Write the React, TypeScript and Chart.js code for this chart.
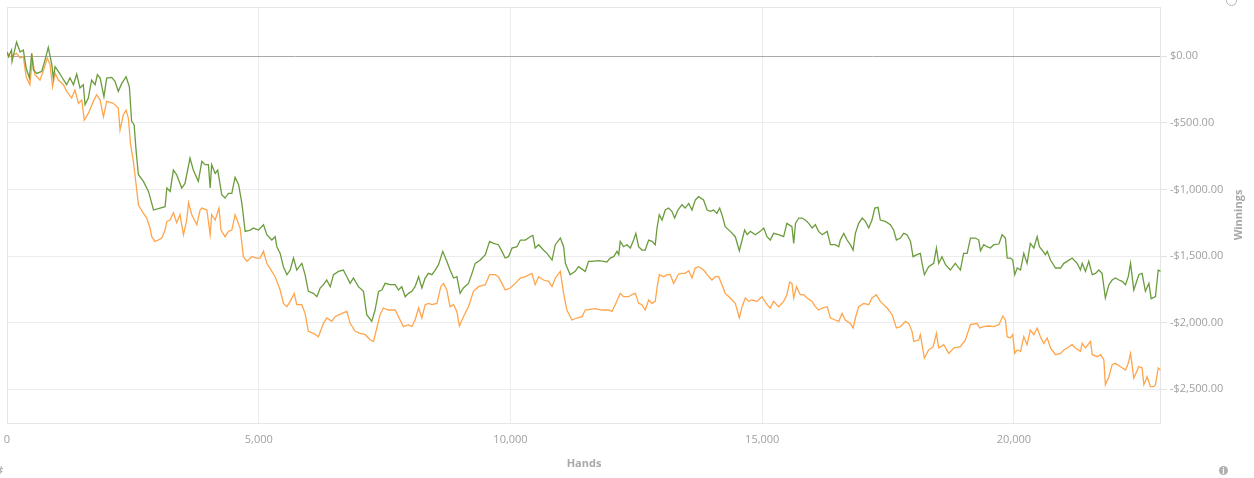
import { useEffect, useRef } from "react";
import { Chart, registerables } from "chart.js";

Chart.register(...registerables);

// all-in winnings
const greenHands = [
  0, 30, 90, 100, 190, 260, 325, 380, 445, 490, 525, 590, 690, 755, 820, 890, 920, 955, 1020, 1085,
  1185, 1250, 1320, 1385, 1450, 1515, 1550, 1615, 1680, 1750, 1795, 1850, 1925, 1980, 2080, 2145, 2210, 2280, 2365, 2430,
  2475, 2525, 2565, 2610, 2710, 2810, 2910, 3040, 3140, 3175, 3240, 3305, 3370, 3470, 3535, 3635, 3700, 3800, 3870, 3935,
  4000, 4035, 4065, 4135, 4185, 4265, 4330, 4400, 4465, 4530, 4600, 4665, 4730, 4830, 4895, 4995, 5095, 5160, 5260, 5325,
  5360, 5425, 5490, 5560, 5625, 5690, 5755, 5855, 5920, 5985, 6085, 6155, 6220, 6285, 6350, 6420, 6485, 6585, 6680, 6750,
  6815, 6880, 6980, 7080, 7145, 7245, 7310, 7380, 7445, 7510, 7610, 7710, 7775, 7840, 7910, 7975, 8040, 8105, 8175, 8240,
  8305, 8370, 8440, 8505, 8570, 8655, 8735, 8800, 8870, 8935, 9000, 9065, 9165, 9235, 9300, 9400, 9500, 9585, 9665, 9760,
  9830, 9895, 9960, 10030, 10130, 10195, 10295, 10390, 10445, 10490, 10560, 10655, 10725, 10825, 10890, 10990, 11055, 11090, 11185, 11285,
  11350, 11485, 11550, 11620, 11750, 11850, 11915, 11980, 12050, 12115, 12150, 12180, 12245, 12315, 12380, 12445, 12490, 12545, 12610, 12675,
  12745, 12810, 12875, 12910, 12955, 13010, 13075, 13140, 13205, 13260, 13325, 13405, 13470, 13540, 13605, 13670, 13735, 13835, 13905, 13970,
  14035, 14100, 14155, 14200, 14265, 14365, 14465, 14545, 14600, 14650, 14700, 14765, 14865, 14960, 15030, 15095, 15160, 15225, 15325, 15425,
  15490, 15590, 15625, 15660, 15725, 15790, 15855, 15925, 15990, 16055, 16120, 16190, 16290, 16355, 16450, 16520, 16550, 16620, 16685, 16750,
  16805, 16850, 16915, 16985, 17050, 17115, 17180, 17235, 17300, 17345, 17445, 17545, 17610, 17665, 17745, 17810, 17875, 17945, 17995, 18075,
  18140, 18175, 18220, 18305, 18405, 18460, 18505, 18570, 18640, 18735, 18835, 18935, 19000, 19070, 19135, 19235, 19300, 19335, 19400, 19465,
  19530, 19600, 19700, 19765, 19830, 19865, 19930, 19975, 20015, 20065, 20130, 20195, 20260, 20325, 20395, 20460, 20505, 20560, 20625, 20660,
  20725, 20825, 20925, 20990, 21055, 21155, 21255, 21320, 21355, 21420, 21485, 21555, 21620, 21685, 21750, 21815, 21885, 21950, 22015, 22085,
  22150, 22215, 22270, 22315, 22380, 22480, 22545, 22610, 22680, 22725, 22810, 22865, 22910,
];
const greenWinnings = [
  30, -5, 45, -40, 105, 30, 45, -90, -165, 20, -105, -130, -115, -30, 65, -65, -165, -80, -115, -155,
  -215, -165, -215, -135, -240, -215, -365, -315, -180, -215, -140, -165, -305, -165, -160, -190, -265, -205, -155, -230,
  -490, -515, -715, -890, -940, -1015, -1155, -1140, -1130, -990, -1015, -855, -890, -990, -955, -765, -855, -940, -790, -815,
  -815, -990, -815, -880, -855, -1040, -1065, -1030, -1030, -910, -965, -1105, -1315, -1305, -1290, -1305, -1265, -1340, -1380, -1355,
  -1430, -1480, -1580, -1640, -1605, -1515, -1605, -1555, -1640, -1765, -1780, -1805, -1740, -1715, -1680, -1730, -1640, -1615, -1605, -1655,
  -1705, -1665, -1730, -1765, -1940, -1990, -1905, -1765, -1755, -1705, -1715, -1715, -1755, -1730, -1805, -1780, -1765, -1730, -1655, -1740,
  -1665, -1630, -1640, -1605, -1565, -1465, -1540, -1605, -1665, -1655, -1780, -1740, -1705, -1630, -1555, -1530, -1490, -1390, -1405, -1415,
  -1465, -1515, -1505, -1440, -1430, -1380, -1380, -1355, -1345, -1440, -1415, -1455, -1480, -1530, -1415, -1365, -1430, -1555, -1640, -1615,
  -1580, -1615, -1540, -1540, -1535, -1540, -1545, -1515, -1505, -1465, -1490, -1390, -1430, -1415, -1440, -1380, -1330, -1430, -1455, -1455,
  -1380, -1390, -1415, -1290, -1190, -1230, -1155, -1140, -1165, -1215, -1155, -1115, -1140, -1105, -1155, -1080, -1055, -1080, -1155, -1165,
  -1155, -1180, -1140, -1190, -1280, -1315, -1355, -1460, -1380, -1305, -1340, -1315, -1340, -1315, -1290, -1355, -1380, -1330, -1340, -1355,
  -1255, -1280, -1405, -1255, -1215, -1215, -1230, -1255, -1290, -1265, -1315, -1340, -1315, -1415, -1415, -1430, -1380, -1330, -1380, -1415,
  -1455, -1330, -1255, -1215, -1240, -1290, -1230, -1140, -1135, -1230, -1240, -1265, -1305, -1380, -1365, -1330, -1340, -1390, -1505, -1490,
  -1480, -1555, -1640, -1580, -1555, -1440, -1555, -1505, -1565, -1605, -1555, -1605, -1480, -1480, -1365, -1365, -1380, -1460, -1415, -1430,
  -1440, -1415, -1410, -1340, -1365, -1515, -1515, -1530, -1640, -1590, -1605, -1480, -1555, -1405, -1440, -1355, -1430, -1455, -1490, -1465,
  -1530, -1590, -1590, -1555, -1540, -1515, -1555, -1605, -1555, -1615, -1540, -1640, -1630, -1605, -1630, -1815, -1715, -1680, -1665, -1680,
  -1690, -1715, -1655, -1555, -1755, -1640, -1630, -1765, -1705, -1820, -1805, -1605, -1615,
];

const orangeHands = [
  0, 60, 190, 260, 325, 380, 455, 505, 555, 655, 720, 800, 855, 905, 955, 1020, 1120, 1185, 1285, 1350,
  1420, 1485, 1535, 1615, 1715, 1780, 1850, 1915, 1980, 2110, 2210, 2245, 2310, 2365, 2410, 2455, 2510, 2565, 2610, 2700,
  2775, 2840, 2875, 2940, 3005, 3075, 3140, 3175, 3240, 3305, 3370, 3435, 3505, 3570, 3605, 3670, 3770, 3835, 3870, 3970,
  4035, 4065, 4135, 4210, 4250, 4330, 4400, 4465, 4530, 4630, 4695, 4765, 4860, 4960, 5025, 5095, 5160, 5260, 5325, 5360,
  5425, 5490, 5560, 5625, 5705, 5755, 5855, 5920, 5985, 6085, 6185, 6285, 6350, 6450, 6515, 6650, 6750, 6815, 6915, 7015,
  7115, 7215, 7280, 7345, 7410, 7475, 7575, 7710, 7775, 7875, 7975, 8040, 8105, 8175, 8240, 8305, 8370, 8440, 8540, 8615,
  8670, 8735, 8800, 8870, 8935, 8985, 9065, 9165, 9265, 9365, 9500, 9585, 9695, 9760, 9830, 9895, 9995, 10095, 10195, 10295,
  10425, 10490, 10560, 10655, 10755, 10825, 10890, 10990, 11055, 11120, 11220, 11320, 11420, 11485, 11585, 11685, 11815, 11950, 12015, 12080,
  12150, 12180, 12245, 12345, 12410, 12480, 12545, 12610, 12675, 12745, 12810, 12875, 12910, 12955, 13040, 13110, 13175, 13240, 13340, 13405,
  13470, 13540, 13605, 13670, 13735, 13835, 13905, 14000, 14070, 14135, 14200, 14265, 14365, 14465, 14545, 14600, 14665, 14730, 14795, 14895,
  14995, 15095, 15160, 15225, 15325, 15425, 15490, 15545, 15590, 15625, 15680, 15755, 15825, 15890, 15990, 16055, 16120, 16190, 16290, 16355,
  16450, 16520, 16585, 16650, 16750, 16805, 16850, 16915, 17015, 17115, 17180, 17265, 17345, 17480, 17580, 17665, 17745, 17845, 17910, 17975,
  18010, 18110, 18140, 18220, 18305, 18395, 18460, 18505, 18605, 18705, 18805, 18935, 19035, 19135, 19265, 19320, 19400, 19500, 19600, 19700,
  19780, 19830, 19865, 19930, 19975, 20015, 20065, 20130, 20195, 20260, 20325, 20395, 20460, 20525, 20590, 20660, 20725, 20825, 20925, 20990,
  21055, 21155, 21220, 21320, 21355, 21420, 21520, 21555, 21655, 21720, 21785, 21815, 21885, 21950, 22015, 22115, 22215, 22270, 22315, 22380,
  22480, 22545, 22580, 22645, 22710, 22775, 22810, 22865, 22910,
];
const orangeWinnings = [
  30, -5, 20, -15, -5, -155, -215, -15, -140, -180, -115, -15, -65, -230, -130, -180, -215, -265, -315, -255,
  -355, -330, -480, -430, -340, -290, -330, -455, -340, -355, -390, -555, -440, -405, -465, -665, -790, -965, -1115, -1175,
  -1215, -1290, -1355, -1390, -1380, -1365, -1305, -1240, -1230, -1175, -1250, -1190, -1340, -1230, -1100, -1190, -1265, -1155, -1140, -1155,
  -1340, -1190, -1230, -1140, -1305, -1355, -1315, -1305, -1190, -1290, -1505, -1540, -1505, -1515, -1515, -1465, -1555, -1615, -1655, -1690,
  -1755, -1855, -1880, -1840, -1780, -1865, -1865, -1930, -2065, -2080, -2105, -2005, -1965, -1990, -1955, -1930, -1915, -2005, -2065, -2080,
  -2090, -2130, -2140, -2040, -1940, -1890, -1905, -1905, -1955, -2030, -2015, -2030, -1980, -1890, -1965, -1865, -1855, -1865, -1855, -1730,
  -1705, -1755, -1880, -1865, -1915, -2025, -1955, -1880, -1765, -1730, -1715, -1640, -1640, -1655, -1705, -1755, -1740, -1705, -1665, -1655,
  -1630, -1715, -1655, -1680, -1690, -1730, -1665, -1615, -1780, -1905, -1980, -1965, -1955, -1905, -1900, -1895, -1905, -1905, -1915, -1865,
  -1805, -1780, -1805, -1805, -1790, -1780, -1855, -1865, -1905, -1830, -1855, -1840, -1740, -1640, -1655, -1640, -1640, -1705, -1635, -1630,
  -1630, -1610, -1665, -1590, -1580, -1605, -1640, -1680, -1655, -1655, -1715, -1780, -1815, -1855, -1965, -1880, -1815, -1840, -1830, -1840,
  -1805, -1865, -1890, -1840, -1880, -1840, -1790, -1695, -1705, -1815, -1730, -1790, -1790, -1815, -1840, -1880, -1905, -1890, -1880, -1965,
  -1980, -1990, -1930, -1980, -2005, -2040, -1965, -1880, -1855, -1865, -1815, -1790, -1840, -1890, -1940, -2040, -2030, -1990, -2005, -2065,
  -2140, -2130, -2090, -2265, -2205, -2180, -2080, -2190, -2165, -2230, -2190, -2180, -2130, -2015, -2005, -2040, -2030, -2025, -2030, -2015,
  -1950, -1980, -2105, -2115, -2090, -2230, -2205, -2215, -2105, -2165, -2055, -2090, -2040, -2105, -2155, -2115, -2190, -2240, -2230, -2205,
  -2190, -2165, -2190, -2215, -2155, -2190, -2140, -2240, -2255, -2240, -2280, -2465, -2405, -2315, -2305, -2330, -2355, -2305, -2230, -2415,
  -2330, -2340, -2465, -2405, -2480, -2480, -2465, -2340, -2355,
];

const handTicks = [0, 5000, 10000, 15000, 20000];
const winningTicks = [0, -500, -1000, -1500, -2000, -2500];

const FONT = '"Open Sans", "Noto Sans", sans-serif';

function money(v: number) {
  const s = Math.abs(v).toLocaleString("en-US", { minimumFractionDigits: 2, maximumFractionDigits: 2 });
  return (v < 0 ? "-" : "") + "$" + s;
}

// light frame around the plot area
const plotFrame = {
  id: "plotFrame",
  beforeDatasetsDraw(chart: any) {
    const { ctx, chartArea: a } = chart;
    ctx.save();
    ctx.strokeStyle = "#e6e6e6";
    ctx.lineWidth = 1;
    ctx.strokeRect(a.left + 0.5, a.top + 0.5, a.right - a.left - 1, a.bottom - a.top - 1);
    ctx.restore();
  },
};

function WinningsChart() {
  const canvasRef = useRef<HTMLCanvasElement>(null);
  const chartRef = useRef<Chart | null>(null);

  useEffect(() => {
    const canvas = canvasRef.current;
    if (!canvas) return;
    chartRef.current?.destroy();

    const green = greenHands.map((x, i) => ({ x, y: greenWinnings[i] }));
    const orange = orangeHands.map((x, i) => ({ x, y: orangeWinnings[i] }));
    const tickFont = { family: FONT, size: 11 };
    const titleFont = { family: FONT, size: 11, weight: "bold" as const };

    chartRef.current = new Chart(canvas, {
      type: "line",
      data: {
        datasets: [
          { data: green, borderColor: "#6b9c3c", borderWidth: 1.3, pointRadius: 0, tension: 0 },
          { data: orange, borderColor: "#ffa54c", borderWidth: 1.3, pointRadius: 0, tension: 0 },
        ],
      },
      options: {
        animation: false,
        responsive: true,
        maintainAspectRatio: false,
        layout: { padding: { left: 7, top: 7, right: 0, bottom: 0 } },
        plugins: { legend: { display: false }, tooltip: { enabled: false } },
        scales: {
          x: {
            type: "linear",
            min: 0,
            max: 22920,
            afterBuildTicks: (s: any) => {
              s.ticks = handTicks.map((value) => ({ value }));
            },
            afterFit: (s: any) => {
              s.height = 54;
              s.paddingLeft = 0;
              s.paddingRight = 0;
            },
            grid: { color: "#ececec", drawTicks: false },
            border: { display: false },
            ticks: {
              padding: 9,
              color: "#a0a0a0",
              font: tickFont,
              maxRotation: 0,
              autoSkip: false,
              callback: (v: any) => Number(v).toLocaleString("en-US"),
            },
            title: {
              display: true,
              text: "Hands",
              color: "#a8a8a8",
              font: titleFont,
              padding: { top: 0, bottom: 8 },
            },
          },
          y: {
            position: "right",
            min: -2760,
            max: 368,
            afterBuildTicks: (s: any) => {
              s.ticks = winningTicks.map((value) => ({ value }));
            },
            afterFit: (s: any) => {
              s.width = 93;
              s.paddingTop = 0;
              s.paddingBottom = 0;
            },
            grid: {
              color: (c: any) => (c.tick && c.tick.value === 0 ? "#a9a9a9" : "#ececec"),
              tickColor: "#e2e2e2",
              tickLength: 6,
            },
            border: { display: false },
            ticks: {
              padding: 3,
              color: "#a0a0a0",
              font: tickFont,
              callback: (v: any) => money(Number(v)),
            },
          },
        },
      },
      plugins: [plotFrame],
    } as any);

    return () => {
      chartRef.current?.destroy();
      chartRef.current = null;
    };
  }, []);

  return (
    <div style={{ position: "absolute", left: 0, top: 0, width: 1254, height: 478, background: "#fff", overflow: "hidden" }}>
      <canvas ref={canvasRef} />
      <div
        style={{
          position: "absolute",
          left: 1237,
          top: 215,
          transform: "translate(-50%, -50%) rotate(-90deg)",
          font: `bold 11px ${FONT}`,
          color: "#a8a8a8",
          whiteSpace: "nowrap",
        }}
      >
        Winnings
      </div>
      {/* zoom glass, top right */}
      <div
        style={{
          position: "absolute",
          left: 1226,
          top: -5,
          width: 9,
          height: 9,
          border: "1.5px solid #b5b5b5",
          borderRadius: "50%",
        }}
      />
      {/* info badge, bottom right */}
      <div
        style={{
          position: "absolute",
          left: 1219,
          top: 466,
          width: 9,
          height: 9,
          borderRadius: "50%",
          background: "#b0b0b0",
          color: "#fff",
          font: `bold 8px ${FONT}`,
          lineHeight: "9px",
          textAlign: "center",
        }}
      >
        i
      </div>
      {/* settings glyph, cut off at bottom left */}
      <div
        style={{
          position: "absolute",
          left: -4,
          top: 464,
          font: `bold 11px ${FONT}`,
          color: "#b5b5b5",
          lineHeight: "11px",
        }}
      >
        #
      </div>
    </div>
  );
}

export default function App() {
  return <WinningsChart />;
}
